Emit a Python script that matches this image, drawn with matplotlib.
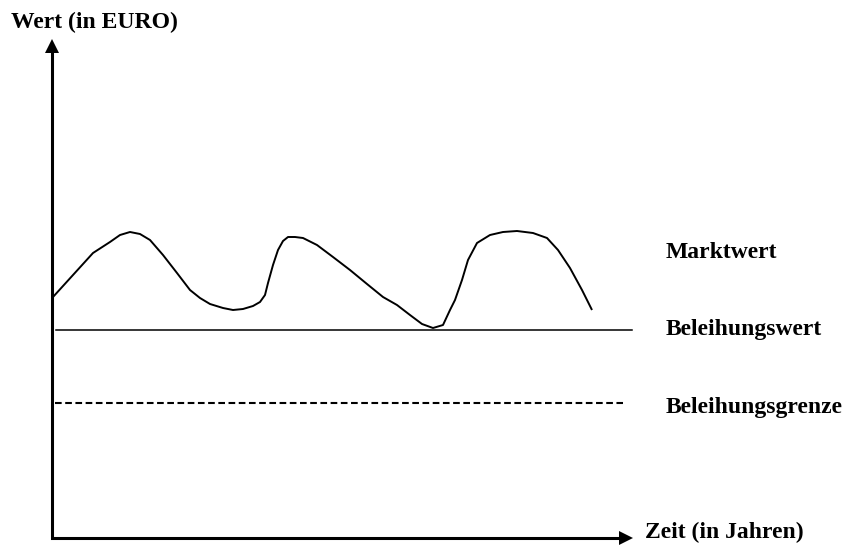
import matplotlib.pyplot as plt

# Marktwert curve (x = time, y = value)
markt_x = [53, 93, 110, 120, 130, 140, 150, 163, 177, 190, 200, 210, 223, 233, 243, 253, 260,
           265, 268, 273, 278, 283, 288, 295, 303, 317, 333, 350, 367, 383, 397, 410, 422, 433,
           443, 450, 455, 462, 468, 477, 490, 503, 517, 533, 547, 558, 570, 582, 592]
markt_y = [248, 292, 303, 310, 313, 311, 305, 290, 272, 255, 247, 241, 237, 235, 236, 239, 243,
           250, 262, 280, 295, 304, 308, 308, 307, 300, 288, 275, 261, 248, 240, 230, 221, 217,
           220, 235, 245, 265, 285, 302, 310, 313, 314, 312, 307, 295, 277, 255, 235]

beleihungswert = 215
beleihungsgrenze = 142
wert_x = [56, 632]
grenze_x = [55, 623]

labels = ["Marktwert", "Beleihungswert", "Beleihungsgrenze"]
label_y = [292, 215, 138]

plt.rcParams['font.family'] = ['Liberation Serif', 'DejaVu Serif']

fig = plt.figure(figsize=(8.46, 5.45), dpi=100)
ax = fig.add_axes([0, 0, 1, 1])
ax.set_xlim(0, 846)
ax.set_ylim(0, 545)
ax.axis("off")

# axes: corner as one polyline, triangle markers as arrow heads
ax.plot([52, 52, 626], [499, 7, 7], color="black", lw=2.2, solid_joinstyle="miter")
ax.plot([52], [499], marker="^", markersize=10, color="black", markeredgewidth=0)
ax.plot([626], [7], marker=">", markersize=10, color="black", markeredgewidth=0)

ax.plot(markt_x, markt_y, color="black", lw=1.4, solid_joinstyle="round", solid_capstyle="butt")
ax.plot(wert_x, [beleihungswert] * 2, color="black", lw=1.1)
ax.plot(grenze_x, [beleihungsgrenze] * 2, color="black", lw=1.5, linestyle=(0, (3.2, 1.7)))

font = dict(fontsize=17, fontweight="bold", va="center", ha="left")
ax.text(11, 523, "Wert (in EURO)", **font)
ax.text(645, 13, "Zeit (in Jahren)", **font)
for lab, yy in zip(labels, label_y):
    ax.text(666, yy, lab, **font)

fig.savefig("out.png", dpi=100)
